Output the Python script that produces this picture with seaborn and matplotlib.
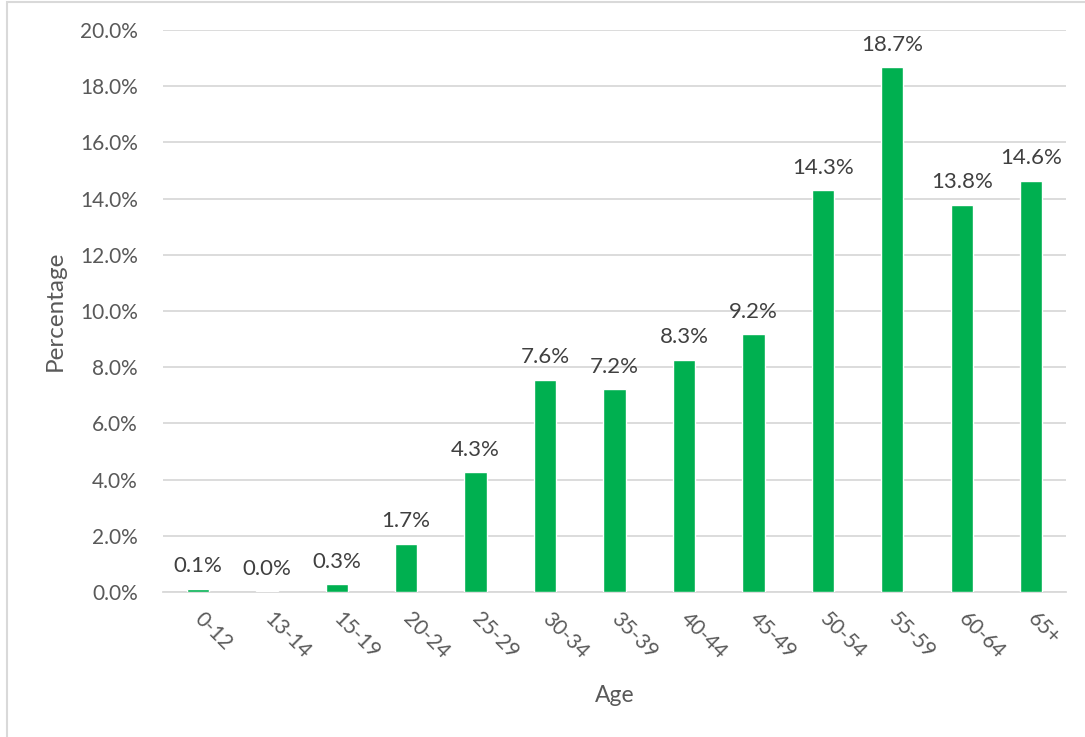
import numpy as np
import pandas as pd
import seaborn as sns
import matplotlib.pyplot as plt
from matplotlib.patches import Rectangle
from matplotlib.ticker import PercentFormatter

ages = ['0-12', '13-14', '15-19', '20-24', '25-29', '30-34', '35-39',
        '40-44', '45-49', '50-54', '55-59', '60-64', '65+']
percent = [0.12, 0.02, 0.28, 1.72, 4.27, 7.56, 7.21, 8.27, 9.17,
           14.29, 18.68, 13.78, 14.63]

grey_text = '#595959'
grid_col = '#D9D9D9'
bar_col = '#00B050'

sns.set_style('white')
plt.rcParams['font.family'] = ['Lato', 'DejaVu Sans']

df = pd.DataFrame({'Age': ages, 'Percentage': percent})

fig = plt.figure(figsize=(10.85, 7.37), dpi=100)
ax = fig.add_axes([163 / 1085, 1 - 592 / 737, (1066 - 163) / 1085, (592 - 30) / 737])

sns.barplot(data=df, x='Age', y='Percentage', color=bar_col, saturation=1,
            width=0.32, ax=ax, zorder=3)

ax.set_ylim(0, 20)
ax.set_yticks(np.arange(0, 20.1, 2))
ax.yaxis.set_major_formatter(PercentFormatter(decimals=1))
ax.grid(axis='y', color=grid_col, linewidth=1.3, zorder=0)
ax.set_axisbelow(True)

for s in ['top', 'right', 'left']:
    ax.spines[s].set_visible(False)
ax.spines['bottom'].set_color(grid_col)
ax.spines['bottom'].set_linewidth(1.3)
ax.tick_params(axis='both', length=0, labelsize=15, labelcolor=grey_text)
ax.tick_params(axis='y', pad=18)

for lab in ax.get_xticklabels():
    lab.set_rotation(-45)
    lab.set_ha('left')
    lab.set_va('center')
    lab.set_rotation_mode('anchor')
ax.tick_params(axis='x', pad=17)

ax.bar_label(ax.containers[0], labels=[f'{v:.1f}%' for v in percent],
             padding=9, fontsize=16, color='#404040')

ax.set_xlabel('Age', fontsize=16.5, color=grey_text, labelpad=16)
ax.set_ylabel('Percentage', fontsize=17.5, color=grey_text, labelpad=10)

# chart frame
fig.patches.append(Rectangle((7 / 1085, -0.05), 1.2, 1.05 - 2 / 737,
                             transform=fig.transFigure, fill=False,
                             edgecolor=grid_col, linewidth=1.5))

fig.savefig('out.png', dpi=100)
